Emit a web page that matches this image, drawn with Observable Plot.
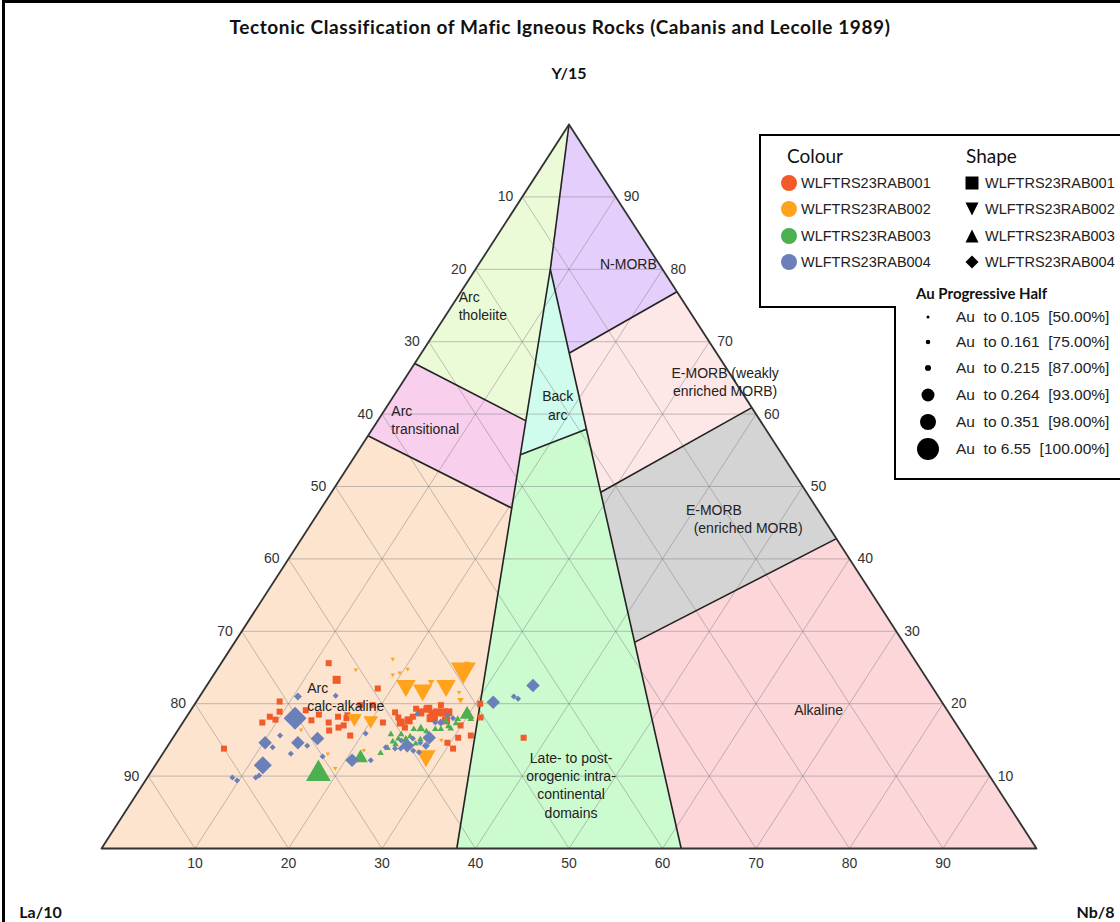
<!DOCTYPE html>
<html><head><meta charset="utf-8">
<script src="https://cdn.jsdelivr.net/npm/d3@7"></script>
<script src="https://cdn.jsdelivr.net/npm/@observablehq/plot@0.6"></script>
<style>
body{margin:0;background:#fff;}
#wrap{position:relative;width:1120px;height:922px;overflow:hidden;font-family:"Liberation Sans",Arial,sans-serif;}
#chart{position:absolute;left:0;top:0;}
#frame{position:absolute;left:2px;top:0px;width:1300px;height:1000px;border-left:3px solid #000;border-top:3px solid #000;}
#title{position:absolute;top:15px;left:0;width:1120px;text-align:center;font:bold 19px Lato,"Open Sans",sans-serif;letter-spacing:0.6px;color:#111;}
#legend{position:absolute;left:0;top:0;}
</style></head>
<body>
<div id="wrap">
  <div id="chart"></div>
  <div id="frame"></div>
  <div id="title">Tectonic Classification of Mafic Igneous Rocks (Cabanis and Lecolle 1989)</div>
  <svg id="legend" width="1120" height="922"></svg>
</div>
<script>
// ---------------- data ----------------
const ticks = [10, 20, 30, 40, 50, 60, 70, 80, 90];
const holes = ["WLFTRS23RAB001", "WLFTRS23RAB002", "WLFTRS23RAB003", "WLFTRS23RAB004"];
const holeColors = ["#f15a29", "#ffa21c", "#4caf50", "#6b7fb8"];
const auBreaks = [0.105, 0.161, 0.215, 0.264, 0.351, 6.55];
const auLabels = ["Au  to 0.105  [50.00%]", "Au  to 0.161  [75.00%]", "Au  to 0.215  [87.00%]",
                  "Au  to 0.264  [93.00%]", "Au  to 0.351  [98.00%]", "Au  to 6.55  [100.00%]"];
const apexLabels = ["Y/15", "La/10", "Nb/8"];

// field vertices [La, Y, Nb] (%)
const V = {
  A: [0, 100, 0], B: [100, 0, 0], C: [0, 0, 100],
  P1: [12, 80, 8], P2: [62, 0, 38], P3: [38, 0, 62],
  Q1: [33, 67, 0], Q2: [25.1, 59.1, 15.8],
  R1: [43, 57, 0], R2: [32.6, 47, 20.4],
  P4: [28, 54.4, 17.6], P5: [19.2, 57.9, 22.9],
  N1: [15.8, 68.4, 15.8], C1: [0, 76.9, 23.1],
  E1: [22, 49.2, 28.8], C2: [0, 60.9, 39.1],
  F1: [28.7, 28.5, 42.8], C3: [0, 42.8, 57.2]
};
const fieldNames = ["Arc tholeiite", "Arc transitional", "Arc calc-alkaline", "Back arc", "Late- to post-orogenic",
                    "N-MORB", "E-MORB (weakly enriched)", "E-MORB (enriched)", "Alkaline"];
const fieldColors = ["#ebfbd7", "#f9cfee", "#fde4cf", "#cffcec", "#cdfbd0", "#e4cefb", "#fde7e7", "#d4d4d4", "#fcd6d9"];
const fieldPolys = [["A","P1","Q2","Q1"], ["Q1","Q2","R2","R1"], ["R1","R2","P2","B"], ["P1","P5","P4"],
                    ["P4","P5","P3","P2"], ["A","C1","N1","P1"], ["N1","C1","C2","E1"], ["E1","C2","C3","F1"], ["F1","C3","C","P3"]];
const boundaries = [["A","P1"], ["P1","P2"], ["P1","P3"], ["Q1","Q2"], ["R1","R2"], ["P4","P5"], ["N1","C1"], ["E1","C2"], ["F1","C3"]];
const outline = ["A", "B", "C", "A"];

// field labels: text, [La, Y, Nb], anchor
const fieldLabelText = ["Arc\ntholeiite", "Arc\ntransitional", "Back\narc", "N-MORB", "E-MORB (weakly\nenriched MORB)",
                        "E-MORB\n\u00a0\u00a0(enriched MORB)", "Alkaline", "Arc\ncalc-alkaline",
                        "Late- to post-\norogenic intra-\ncontinental\ndomains"];
const fieldLabelPos = [[24.25, 75.1, 0.65], [39.35, 59.3, 1.35], [20.55, 61.3, 18.15], [3.2, 80.9, 15.9], [1.0, 64.6, 34.4],
                       [14.7, 45.6, 39.7], [13.65, 19.3, 67.05], [67.5, 21.0, 11.5], [45.4, 8.84, 45.8]];
const fieldLabelAnchor = ["start", "start", "middle", "middle", "middle", "start", "middle", "start", "middle"];

// samples [La, Y, Nb, Au]
const rab001 = [
  [62.9,25.6,11.5,0.14],[63.2,23.3,13.5,0.19],[59.4,22.1,18.5,0.14],[70.8,20.3,8.9,0.14],[72.9,18.2,8.9,0.14],
  [71.5,18.9,9.6,0.14],[72.5,17.8,9.7,0.14],[68.6,19.1,12.3,0.14],[67.5,18.5,14.0,0.14],[65.6,18.2,16.2,0.14],
  [67.0,17.4,15.6,0.14],[67.5,16.3,16.2,0.14],[64.8,18.0,17.2,0.14],[65.6,17.0,17.4,0.14],[61.2,17.4,21.4,0.14],
  [59.2,18.1,22.7,0.14],[59.3,17.4,23.3,0.19],[59.2,16.7,24.1,0.14],[56.7,19.3,24.0,0.14],[55.4,19.3,25.3,0.19],
  [54.7,18.8,26.5,0.19],[54.0,18.8,27.2,0.19],[55.4,18.1,26.5,0.19],[58.3,17.7,24.0,0.19],[54.3,17.7,28.0,0.19],
  [80.0,13.8,6.2,0.14],[55.5,13.8,30.7,0.14],[55.7,14.6,29.7,0.14],[54.2,15.3,30.5,0.14],[52.7,15.6,31.7,0.14],
  [50.4,18.1,31.5,0.14],[49.5,20.0,30.5,0.14],[47.2,15.3,37.5,0.14],[64.5,18.4,17.1,0.14],[66.3,16.7,17.0,0.14],
  [55.3,18.6,26.1,0.19],[55.6,19.3,25.1,0.14],[56.5,18.8,24.7,0.19],[55.8,18.0,26.2,0.19],[53.8,19.8,26.4,0.14],
  [53.5,18.8,27.7,0.19],[57.6,18.2,24.2,0.14],[59.2,18.8,22.0,0.14],[62.4,19.8,17.8,0.14],[68.7,17.7,13.6,0.14],
  [74.1,17.4,8.5,0.14],[65.6,15.6,18.8,0.14],[61.1,19.8,19.1,0.14],[53.1,17.0,29.9,0.14]
];
const rab002 = [
  [49.2,24.2,26.6,1.2],[54.9,21.5,23.6,0.3],[56.4,22.1,21.5,0.3],[52.1,22.1,25.8,0.3],[64.1,17.7,18.2,0.24],
  [62.5,17.4,20.1,0.24],[59.1,12.4,28.5,0.3],[55.8,26.1,18.1,0.09],[60.5,24.6,14.9,0.09],[56.9,23.9,19.2,0.09],
  [56.0,24.2,19.8,0.09],[54.9,24.7,20.4,0.09],[53.3,22.9,23.8,0.14],[48.2,25.4,26.4,0.14],[65.2,13.5,21.3,0.09],
  [69.5,11.0,19.5,0.09],[69.3,13.0,17.7,0.09],[51.0,21.5,27.5,0.09],[70.5,16.3,13.2,0.09],[51.4,20.4,28.2,0.14],
  [56.2,14.9,28.9,0.09]
];
const rab003 = [
  [71.4,10.8,17.8,1.2],[65.9,12.8,21.3,0.24],[51.5,18.8,29.7,0.24],[60.6,15.3,24.1,0.14],[60.0,15.9,24.1,0.14],
  [58.3,16.6,25.1,0.14],[57.5,16.7,25.8,0.19],[57.1,16.3,26.6,0.14],[54.3,17.7,28.0,0.14],[54.4,17.0,28.6,0.14],
  [52.9,18.0,29.1,0.14],[62.4,14.0,23.6,0.14],[60.0,14.9,25.1,0.19],[59.2,15.6,25.2,0.14],[57.0,15.6,27.4,0.14],
  [55.4,16.6,28.0,0.14],[61.3,14.5,24.2,0.14],[58.3,15.2,26.5,0.14],[59.8,15.3,24.9,0.14],[54.3,16.7,29.0,0.14],
  [51.8,18.6,29.6,0.14],[61.1,15.9,23.0,0.14],[60.6,14.2,25.2,0.14],[59.1,14.6,26.3,0.14],[61.4,14.9,23.7,0.14],
  [56.0,16.6,27.4,0.14],[53.4,17.4,29.2,0.14],[63.5,13.3,23.2,0.14],[51.5,18.0,30.5,0.14]
];
const rab004 = [
  [68.5,21.0,10.5,0.19],[70.3,18.0,11.7,1.2],[64.4,21.1,14.5,0.14],[75.2,14.6,10.2,0.24],[71.7,14.6,13.7,0.24],
  [69.3,15.2,15.5,0.24],[70.9,14.2,14.9,0.14],[73.2,13.1,13.7,0.14],[77.0,11.5,11.5,0.3],[78.1,10.1,11.8,0.14],
  [81.1,9.8,9.1,0.14],[80.8,9.4,9.8,0.14],[67.1,12.2,20.7,0.24],[65.1,12.2,22.7,0.14],[63.8,15.9,20.3,0.14],
  [62.6,14.0,23.4,0.14],[60.5,14.9,24.6,0.14],[57.3,15.3,27.4,0.24],[60.2,14.2,25.6,0.24],[56.9,18.6,24.5,0.14],
  [53.8,18.4,27.8,0.14],[53.4,18.0,28.6,0.14],[48.0,20.2,31.8,0.24],[45.4,21.0,33.6,0.14],[45.1,20.7,34.2,0.14],
  [42.6,22.5,34.9,0.24],[70.0,12.7,17.3,0.14],[74.7,14.0,11.3,0.14],[78.6,9.8,11.6,0.14],[61.7,13.8,24.5,0.14],
  [59.9,13.5,26.6,0.14],[58.6,14.6,26.8,0.14],[55.6,17.4,27.0,0.14],[59.1,15.2,25.7,0.14],[59.9,14.2,25.9,0.19],
  [58.2,14.2,27.6,0.19],[61.1,13.8,25.1,0.14],[59.4,13.3,27.3,0.14],[55.0,17.4,27.6,0.19],[73.1,15.6,11.3,0.14]
];
const samples = [rab001, rab002, rab003, rab004];

// ---------------- helpers ----------------
const classWidth = [4, 6, 8, 13.5, 18, 23];
const legendWidth = [3, 4.5, 6, 13, 16, 22];
const symbolScale = [1, 1.08, 1.08, 1];   // triangles drawn slightly wider (smaller area)
const auClass = au => auBreaks.findIndex(b => au <= b);
const tx = p => p[2] + p[1] / 2;   // horizontal position (% of base)
const ty = p => p[1];              // height (% of apex)

const mkSym = f => ({draw(ctx, size) { const h = Math.sqrt(size / Math.PI); f(ctx, h); }});
const symSquare = mkSym((c, h) => { c.moveTo(-h, -h); c.lineTo(h, -h); c.lineTo(h, h); c.lineTo(-h, h); c.closePath(); });
const symDown = mkSym((c, h) => { const t = h * 0.866; c.moveTo(-h, -t); c.lineTo(h, -t); c.lineTo(0, t); c.closePath(); });
const symUp = mkSym((c, h) => { const t = h * 0.866; c.moveTo(-h, t); c.lineTo(h, t); c.lineTo(0, -t); c.closePath(); });
const symDiamond = mkSym((c, h) => { c.moveTo(0, -h); c.lineTo(h, 0); c.lineTo(0, h); c.lineTo(-h, 0); c.closePath(); });
const holeSymbols = [symSquare, symDown, symUp, symDiamond];

// ---------------- marks ----------------
const marks = [];
fieldPolys.forEach((poly, i) => {
  marks.push(Plot.line(poly.map(k => V[k]), {x: tx, y: ty, curve: "linear-closed", fill: fieldColors[i], stroke: "none"}));
});
// grid
const gridY = ticks.map(k => [[100 - k, k, 0], [0, k, 100 - k]]);
const gridNb = ticks.map(k => [[100 - k, 0, k], [0, 100 - k, k]]);
const gridLa = ticks.map(k => [[k, 0, 100 - k], [k, 100 - k, 0]]);
marks.push(Plot.link([...gridY, ...gridNb, ...gridLa], {
  x1: d => tx(d[0]), y1: d => ty(d[0]), x2: d => tx(d[1]), y2: d => ty(d[1]),
  stroke: "#7a7a7a", strokeOpacity: 0.5, strokeWidth: 0.9
}));
// boundaries
marks.push(Plot.link(boundaries, {
  x1: d => tx(V[d[0]]), y1: d => ty(V[d[0]]), x2: d => tx(V[d[1]]), y2: d => ty(V[d[1]]),
  stroke: "#222", strokeWidth: 1.6
}));
marks.push(Plot.line(outline.map(k => V[k]), {x: tx, y: ty, stroke: "#333", strokeWidth: 1.8}));

// tick labels
const tickFont = {fontFamily: "Liberation Sans, Arial, sans-serif", fontSize: 14, fill: "#333"};
marks.push(Plot.text(ticks, {x: k => (100 - k) / 2, y: k => 100 - k, text: k => String(k), textAnchor: "end", dx: -9, ...tickFont}));
marks.push(Plot.text(ticks, {x: k => 100 - k / 2, y: k => k, text: k => String(k), textAnchor: "start", dx: 8, ...tickFont}));
marks.push(Plot.text(ticks, {x: k => k, y: 0, text: k => String(k), dy: 15, ...tickFont}));

// apex labels
const apexFont = {fontFamily: "Lato, 'Open Sans', sans-serif", fontWeight: "bold", fontSize: 16, fill: "#111"};
marks.push(Plot.text([V.A], {x: tx, y: ty, text: () => apexLabels[0], dy: -51, ...apexFont}));
marks.push(Plot.text([V.B], {x: tx, y: ty, text: () => apexLabels[1], dx: -61, dy: 64, ...apexFont}));
marks.push(Plot.text([V.C], {x: tx, y: ty, text: () => apexLabels[2], dx: 59, dy: 64, ...apexFont}));

// samples (hole order, larger classes first)
samples.forEach((pts, h) => {
  for (let c = classWidth.length - 1; c >= 0; c--) {
    const sub = pts.filter(p => auClass(p[3]) === c);
    if (!sub.length) continue;
    marks.push(Plot.dot(sub, {x: tx, y: ty, r: classWidth[c] * symbolScale[h] / 2, symbol: holeSymbols[h], fill: holeColors[h], stroke: "none"}));
  }
});

// field labels
const labelIdx = fieldLabelText.map((_, i) => i);
["start", "middle"].forEach(anchor => {
  marks.push(Plot.text(labelIdx.filter(i => fieldLabelAnchor[i] === anchor), {
    x: i => tx(fieldLabelPos[i]), y: i => ty(fieldLabelPos[i]), text: i => fieldLabelText[i],
    textAnchor: anchor, lineHeight: 1.3, fontFamily: "Liberation Sans, Arial, sans-serif", fontSize: 14, fill: "#222"
  }));
});

const chart = Plot.plot({
  width: 1120, height: 922,
  marginTop: 0, marginRight: 0, marginBottom: 0, marginLeft: 0,
  x: {domain: [0, 100], range: [101, 1036], axis: null},
  y: {domain: [0, 100], range: [848, 124], axis: null},
  style: {background: "transparent"},
  marks
});
document.getElementById("chart").appendChild(chart);

// ---------------- legend ----------------
const ns = "http://www.w3.org/2000/svg";
const leg = document.getElementById("legend");
function el(tag, attrs, text) {
  const e = document.createElementNS(ns, tag);
  for (const k in attrs) e.setAttribute(k, attrs[k]);
  if (text != null) e.textContent = text;
  leg.appendChild(e);
  return e;
}
el("path", {d: "M760,135H1130V479H895V307H760Z", fill: "#fff", stroke: "#000", "stroke-width": 2});
const hdr = {"font-family": "Lato, 'Open Sans', sans-serif", "font-size": 19, fill: "#111"};
el("text", {x: 787, y: 163, ...hdr}, "Colour");
el("text", {x: 966, y: 163, ...hdr}, "Shape");
const rowY = [183, 209, 236, 262];
const entFont = {"font-family": "Liberation Sans, Arial, sans-serif", "font-size": 14.5, fill: "#222"};
holes.forEach((name, i) => {
  const y = rowY[i];
  el("circle", {cx: 789, cy: y, r: 8, fill: holeColors[i]});
  el("text", {x: 801, y: y + 5, ...entFont}, name);
  const s = 6.5; let d;
  if (i === 0) d = `M${972 - s},${y - s}h${2 * s}v${2 * s}h${-2 * s}Z`;
  if (i === 1) d = `M${972 - s},${y - s}H${972 + s}L972,${y + s}Z`;
  if (i === 2) d = `M${972 - s},${y + s}H${972 + s}L972,${y - s}Z`;
  if (i === 3) d = `M972,${y - s}L${972 + s},${y}L972,${y + s}L${972 - s},${y}Z`;
  el("path", {d, fill: "#000"});
  el("text", {x: 985, y: y + 5, ...entFont}, name);
});
el("text", {x: 916, y: 299, "font-family": "Lato, 'Open Sans', sans-serif", "font-weight": "bold", "font-size": 15, fill: "#111"}, "Au Progressive Half");
const sizeRowY = [317, 342, 368, 395, 422, 449];
auLabels.forEach((lab, i) => {
  el("circle", {cx: 928, cy: sizeRowY[i], r: legendWidth[i] / 2, fill: "#000"});
  const t = el("text", {x: 956, y: sizeRowY[i] + 5, ...entFont, "font-size": 15.5, "xml:space": "preserve"}, lab);
  t.style.whiteSpace = "pre";
});
</script>
</body></html>
